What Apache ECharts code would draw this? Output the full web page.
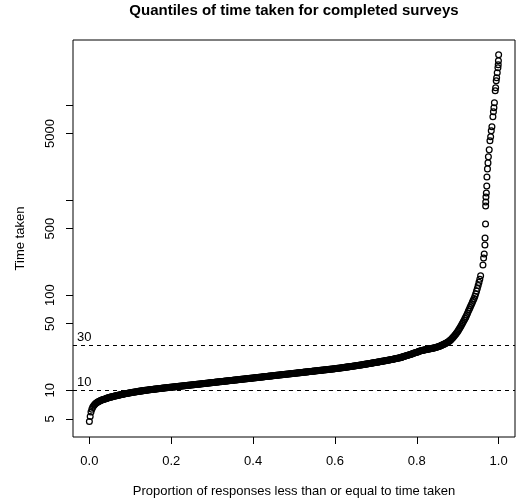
<!DOCTYPE html>
<html>
<head>
<meta charset="utf-8">
<script src="https://cdn.jsdelivr.net/npm/echarts@6/dist/echarts.min.js"></script>
<style>
  html, body { margin: 0; padding: 0; background: #fff; }
  #chart { width: 516px; height: 503px; }
</style>
</head>
<body>
<div id="chart"></div>
<script>
// Sorted completion times for the bulk of responses, one value per proportion step
const bodyStep = 0.002;
const bodyTime = [
  4.70, 5.30, 5.90, 6.30, 6.60, 6.82, 7.00, 7.16, 7.30, 7.40,
  7.50, 7.58, 7.66, 7.73, 7.80, 7.87, 7.93, 7.99, 8.04, 8.10,
  8.15, 8.21, 8.26, 8.32, 8.37, 8.42, 8.46, 8.51, 8.55, 8.60,
  8.64, 8.68, 8.72, 8.76, 8.80, 8.84, 8.88, 8.92, 8.96, 9.00,
  9.04, 9.08, 9.12, 9.16, 9.19, 9.23, 9.26, 9.30, 9.33, 9.37,
  9.40, 9.44, 9.47, 9.51, 9.54, 9.57, 9.60, 9.63, 9.66, 9.69,
  9.72, 9.75, 9.78, 9.81, 9.84, 9.87, 9.90, 9.93, 9.96, 9.98,
  10.01, 10.04, 10.07, 10.10, 10.12, 10.15, 10.17, 10.20, 10.22, 10.25,
  10.27, 10.30, 10.32, 10.35, 10.37, 10.40, 10.42, 10.45, 10.47, 10.50,
  10.52, 10.55, 10.57, 10.60, 10.62, 10.64, 10.66, 10.69, 10.71, 10.74,
  10.76, 10.79, 10.81, 10.83, 10.85, 10.88, 10.90, 10.93, 10.95, 10.98,
  11.00, 11.03, 11.05, 11.07, 11.09, 11.12, 11.14, 11.17, 11.19, 11.22,
  11.24, 11.27, 11.29, 11.32, 11.34, 11.37, 11.39, 11.42, 11.44, 11.47,
  11.49, 11.52, 11.54, 11.57, 11.59, 11.62, 11.65, 11.68, 11.70, 11.73,
  11.75, 11.78, 11.80, 11.83, 11.86, 11.89, 11.91, 11.94, 11.97, 12.00,
  12.02, 12.05, 12.07, 12.10, 12.13, 12.16, 12.18, 12.21, 12.24, 12.27,
  12.29, 12.32, 12.35, 12.38, 12.40, 12.43, 12.46, 12.49, 12.51, 12.54,
  12.57, 12.60, 12.63, 12.66, 12.68, 12.71, 12.74, 12.77, 12.79, 12.82,
  12.85, 12.88, 12.91, 12.94, 12.97, 13.00, 13.03, 13.06, 13.09, 13.12,
  13.15, 13.18, 13.21, 13.24, 13.27, 13.30, 13.32, 13.35, 13.38, 13.41,
  13.44, 13.47, 13.50, 13.53, 13.56, 13.60, 13.63, 13.66, 13.69, 13.72,
  13.75, 13.78, 13.81, 13.84, 13.87, 13.91, 13.94, 13.97, 14.00, 14.03,
  14.06, 14.09, 14.12, 14.16, 14.19, 14.22, 14.25, 14.29, 14.32, 14.35,
  14.38, 14.42, 14.45, 14.48, 14.51, 14.55, 14.58, 14.61, 14.64, 14.68,
  14.71, 14.75, 14.78, 14.81, 14.84, 14.88, 14.91, 14.94, 14.97, 15.01,
  15.04, 15.08, 15.11, 15.15, 15.18, 15.21, 15.24, 15.28, 15.31, 15.35,
  15.38, 15.42, 15.45, 15.49, 15.52, 15.56, 15.59, 15.63, 15.66, 15.70,
  15.73, 15.77, 15.80, 15.84, 15.87, 15.91, 15.95, 15.99, 16.02, 16.06,
  16.09, 16.13, 16.16, 16.20, 16.23, 16.27, 16.31, 16.35, 16.38, 16.42,
  16.45, 16.49, 16.53, 16.57, 16.60, 16.64, 16.68, 16.72, 16.75, 16.79,
  16.83, 16.88, 16.92, 16.97, 17.01, 17.06, 17.11, 17.16, 17.20, 17.25,
  17.29, 17.34, 17.39, 17.44, 17.49, 17.54, 17.59, 17.64, 17.69, 17.74,
  17.79, 17.85, 17.90, 17.96, 18.01, 18.07, 18.12, 18.17, 18.22, 18.28,
  18.33, 18.39, 18.45, 18.51, 18.57, 18.63, 18.69, 18.75, 18.81, 18.87,
  18.93, 19.00, 19.06, 19.13, 19.19, 19.26, 19.33, 19.40, 19.46, 19.53,
  19.59, 19.66, 19.73, 19.80, 19.87, 19.95, 20.02, 20.09, 20.16, 20.23,
  20.30, 20.38, 20.46, 20.54, 20.61, 20.69, 20.77, 20.85, 20.92, 21.00,
  21.08, 21.17, 21.26, 21.36, 21.45, 21.54, 21.63, 21.73, 21.82, 21.91,
  22.00, 22.14, 22.28, 22.42, 22.56, 22.70, 22.84, 22.98, 23.12, 23.26,
  23.40, 23.57, 23.74, 23.91, 24.08, 24.25, 24.42, 24.59, 24.76, 24.93,
  25.10, 25.28, 25.45, 25.63, 25.80, 25.95, 26.10, 26.23, 26.35, 26.48,
  26.60, 26.70, 26.80, 26.90, 27.00, 27.11, 27.22, 27.33, 27.45, 27.57,
  27.70, 27.82, 27.95, 28.10, 28.25, 28.42, 28.60, 28.82, 29.05, 29.32,
  29.60, 29.85, 30.10, 30.40, 30.70, 31.05, 31.40, 31.77, 32.15, 32.57,
  33.0, 33.6, 34.2, 34.9, 35.7, 36.5, 37.4, 38.3, 39.3, 40.4,
  41.5, 42.8, 44.2, 45.7, 47.3, 49.1, 50.9, 52.8, 54.8, 56.9,
  59.0, 61.7, 64.5, 67.5, 70.6, 73.8, 77.2, 80.7, 84.3, 88.1,
  92, 97, 103, 110, 117, 126, 136, 147, 160
];

// Slowest responses, with their cumulative proportions
const tailProportion = [
  0.9617, 0.9633, 0.9648, 0.9665, 0.9668, 0.9680, 0.9683, 0.9685, 0.9690, 0.9700,
  0.9710, 0.9714, 0.9727, 0.9740, 0.9750, 0.9770, 0.9788, 0.9805, 0.9820, 0.9836,
  0.9860, 0.9873, 0.9885, 0.9897, 0.9917, 0.9927, 0.9941, 0.9951, 0.9966, 0.9983,
  0.9990, 0.9995, 1.0000
];
const tailTime = [
  207, 245, 270, 336, 398, 559, 865, 952, 1075, 1185,
  1404, 1746, 2120, 2452, 2836, 3360, 4180, 4605, 5325, 5867,
  7478, 8440, 9300, 10500, 14040, 15100, 17890, 19240, 21720, 24520,
  26380, 29060, 33600
];

// Axis ticks and reference levels
const xTicks = [0, 0.2, 0.4, 0.6, 0.8, 1.0];
const yTicks = [5, 10, 50, 100, 500, 1000, 5000, 10000];
const yLabels = [5, 10, 50, 100, 500, 5000];
const referenceLevels = [10, 30];

const points = bodyTime.map((t, i) => [i * bodyStep, t])
  .concat(tailTime.map((t, i) => [tailProportion[i], t]));

const FONT = 'Liberation Sans, Arial, Helvetica, sans-serif';

const chart = echarts.init(document.getElementById('chart'), null, { renderer: 'canvas' });
chart.setOption({
  animation: false,
  backgroundColor: '#ffffff',
  title: {
    text: 'Quantiles of time taken for completed surveys',
    left: 294,
    top: 3,
    padding: 0,
    textAlign: 'center',
    textStyle: { fontFamily: FONT, fontSize: 15, fontWeight: 'bold', color: '#000' }
  },
  grid: {
    left: 73, right: 1, top: 40, bottom: 66,
    show: true, borderColor: '#000', borderWidth: 1, backgroundColor: 'transparent'
  },
  xAxis: {
    type: 'value',
    min: -0.04,
    max: 1.04,
    name: 'Proportion of responses less than or equal to time taken',
    nameLocation: 'middle',
    nameGap: 48,
    nameTextStyle: { fontFamily: FONT, fontSize: 13, color: '#000' },
    axisLine: { show: false, onZero: false },
    splitLine: { show: false },
    axisTick: { show: true, length: 7, customValues: xTicks, lineStyle: { color: '#000' } },
    axisLabel: {
      customValues: xTicks,
      margin: 18,
      fontFamily: FONT, fontSize: 13, color: '#000',
      formatter: v => v.toFixed(1)
    }
  },
  yAxis: {
    type: 'log',
    logBase: 10,
    min: 3.224,
    max: 47970,
    name: 'Time taken',
    nameLocation: 'middle',
    nameRotate: 90,
    nameGap: 46,
    nameTextStyle: { fontFamily: FONT, fontSize: 13, color: '#000' },
    axisLine: { show: false, onZero: false },
    splitLine: { show: false },
    axisTick: { show: true, length: 7, customValues: yTicks, lineStyle: { color: '#000' } },
    axisLabel: {
      customValues: yLabels,
      rotate: 90,
      margin: 16,
      fontFamily: FONT, fontSize: 13, color: '#000',
      formatter: v => String(Math.round(v))
    }
  },
  series: [{
    type: 'scatter',
    data: points,
    symbol: 'circle',
    symbolSize: 5.8,
    silent: true,
    itemStyle: { color: 'rgba(0,0,0,0)', borderColor: '#000', borderWidth: 1.25, opacity: 1 },
    markLine: {
      silent: true,
      symbol: 'none',
      lineStyle: { color: '#000', type: [4, 4], width: 1 },
      label: {
        show: true,
        position: 'insideStartTop',
        distance: [4, 1],
        formatter: p => String(p.value),
        fontFamily: FONT, fontSize: 13, color: '#000'
      },
      emphasis: { disabled: true },
      data: referenceLevels.map(v => ({ yAxis: v }))
    }
  }]
});
</script>
</body>
</html>
